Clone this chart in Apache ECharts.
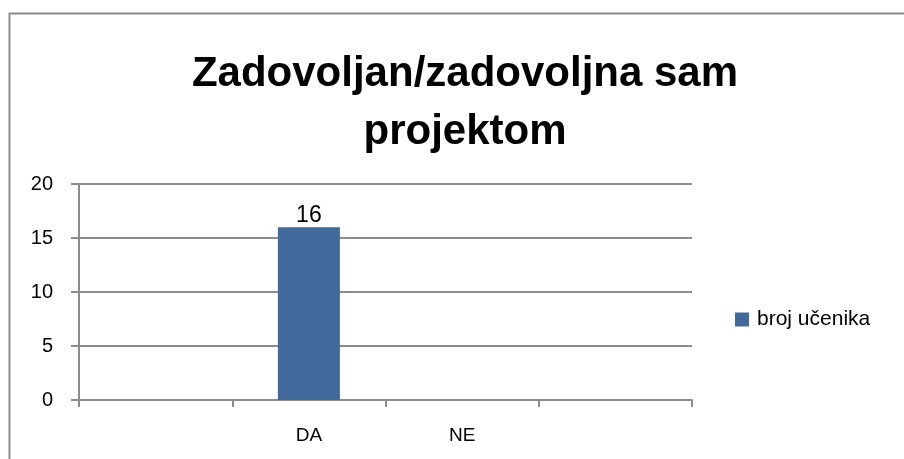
<!DOCTYPE html>
<html>
<head>
<meta charset="utf-8">
<script src="https://cdn.jsdelivr.net/npm/echarts@6/dist/echarts.min.js"></script>
<style>
  html, body { margin: 0; padding: 0; background: #fff; }
  #chart { width: 904px; height: 459px; }
</style>
</head>
<body>
<div id="chart"></div>
<script>
// podaci
const categories = ["", "DA", "NE", ""];
const brojUcenika = [null, 16, 0, null];
const seriesName = "broj učenika";
const titleText = "Zadovoljan/zadovoljna sam\nprojektom";

const axisGray = "#8c8c8c";
const font = "Liberation Sans";

const chart = echarts.init(document.getElementById("chart"));

const option = {
  animation: false,
  textStyle: { fontFamily: font },
  title: {
    text: titleText,
    left: 460,
    top: 40,
    textAlign: "center",
    textStyle: {
      fontFamily: font,
      fontSize: 42,
      fontWeight: "bold",
      color: "#000",
      lineHeight: 58,
    },
  },
  // rub okvira grafikona
  graphic: [
    {
      type: "rect",
      shape: { x: 9.5, y: 13.5, width: 1000, height: 1000 },
      style: { fill: "none", stroke: axisGray, lineWidth: 2 },
      silent: true,
    },
  ],
  legend: {
    left: 730,
    top: 304,
    orient: "vertical",
    itemWidth: 14,
    itemHeight: 14,
    itemGap: 6,
    icon: "rect",
    textStyle: { fontFamily: font, fontSize: 21, color: "#000", padding: [0, 0, 0, 3] },
    data: [seriesName],
  },
  grid: {
    left: 79,
    right: 212,
    top: 184,
    bottom: 59,
  },
  xAxis: {
    type: "category",
    data: categories,
    axisLine: { lineStyle: { color: axisGray, width: 2 } },
    axisTick: { show: true, length: 7, lineStyle: { color: axisGray, width: 2 } },
    axisLabel: { color: "#000", fontSize: 19, margin: 26 },
  },
  yAxis: {
    type: "value",
    min: 0,
    max: 20,
    interval: 5,
    axisLine: { show: true, lineStyle: { color: axisGray, width: 2 } },
    axisTick: { show: true, length: 8, lineStyle: { color: axisGray, width: 2 } },
    axisLabel: { color: "#000", fontSize: 20, margin: 26 },
    splitLine: { lineStyle: { color: axisGray, width: 2 } },
  },
  series: [
    {
      name: seriesName,
      type: "bar",
      data: brojUcenika,
      barWidth: 62,
      itemStyle: { color: "#41699c" },
      label: {
        show: true,
        position: "top",
        distance: 0,
        color: "#000",
        fontSize: 23,
        formatter: (p) => (p.value ? String(p.value) : ""),
      },
    },
  ],
};

chart.setOption(option);
</script>
</body>
</html>
